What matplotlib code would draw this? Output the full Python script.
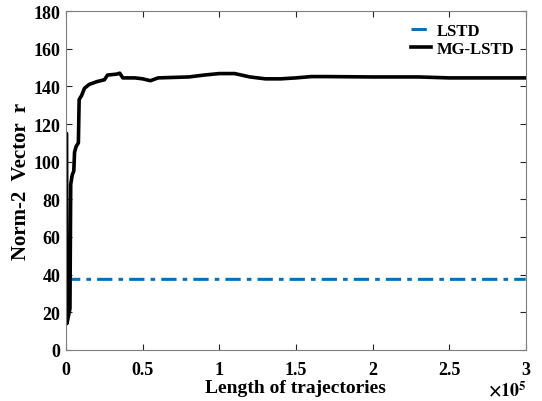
import numpy as np
import matplotlib
matplotlib.use('Agg')
import matplotlib.pyplot as plt
from matplotlib.ticker import FuncFormatter

plt.rcParams['font.family'] = 'Liberation Serif'
plt.rcParams['font.weight'] = 'bold'
plt.rcParams['mathtext.fontset'] = 'stix'

# trajectory length in units of 1e5
mg_x = [0.0, 0.003, 0.005, 0.02, 0.025, 0.03, 0.04, 0.05, 0.055, 0.065, 0.08, 0.085,
        0.10, 0.12, 0.15, 0.20, 0.25, 0.27, 0.33, 0.35, 0.37, 0.45, 0.50, 0.55, 0.60,
        0.80, 0.90, 1.00, 1.10, 1.20, 1.30, 1.40, 1.50, 1.60, 1.70, 2.00, 2.30, 2.50, 3.00]
mg_y = [115, 115, 14, 20, 22, 88, 93, 95, 105, 108, 110, 133,
        135, 139, 141, 142.5, 143.5, 146, 146.5, 147, 144.5, 144.5, 144, 143, 144.5,
        145, 146, 146.8, 146.8, 145, 144, 144, 144.5, 145.2, 145.2, 145, 145, 144.5, 144.5]
lstd_x = [0.0, 0.02, 3.0]
lstd_y = [36, 37.5, 37.5]

xticks = [0, 0.5, 1, 1.5, 2, 2.5, 3]
yticks = [0, 20, 40, 60, 80, 100, 120, 140, 160, 180]

fig = plt.figure(figsize=(5.42, 4.02), dpi=100)
ax = fig.add_axes([0.122, 0.127, 0.848, 0.843])
ax.plot(lstd_x, lstd_y, color='#0072BD', lw=2.2, ls=(0, (5, 2, 1.5, 2)), label='LSTD')
ax.plot(mg_x, mg_y, color='k', lw=2.6, label='MG-LSTD')

ax.set_xlim(0, 3)
ax.set_ylim(0, 180)
ax.set_xticks(xticks)
ax.set_yticks(yticks)
ax.xaxis.set_major_formatter(FuncFormatter(lambda v, p: '%g' % v))
ax.tick_params(direction='in', top=True, right=True, labelsize=13, colors='#262626',
               length=4)
ax.tick_params(axis='x', pad=8)
ax.tick_params(axis='y', pad=4)
for lab in ax.get_xticklabels() + ax.get_yticklabels():
    lab.set_color('k')
    lab.set_fontweight('bold')
for s in ax.spines.values():
    s.set_color('#7f7f7f')
    s.set_linewidth(0.8)

ax.set_xlabel('Length of trajectories', fontsize=14, fontweight='bold', labelpad=1)
ax.set_ylabel('Norm-2  Vector  r', fontsize=15, fontweight='bold', labelpad=2)
ax.text(1.003, -0.118, r'$\times10^5$', transform=ax.transAxes, ha='right', va='center',
        fontsize=13)

leg = ax.legend(loc='upper right', frameon=False, fontsize=12, handlelength=1.2,
                handletextpad=0.3, labelspacing=0.15, borderaxespad=0.3)
for t in leg.get_texts():
    t.set_fontweight('bold')

plt.savefig('out.png', dpi=100)
